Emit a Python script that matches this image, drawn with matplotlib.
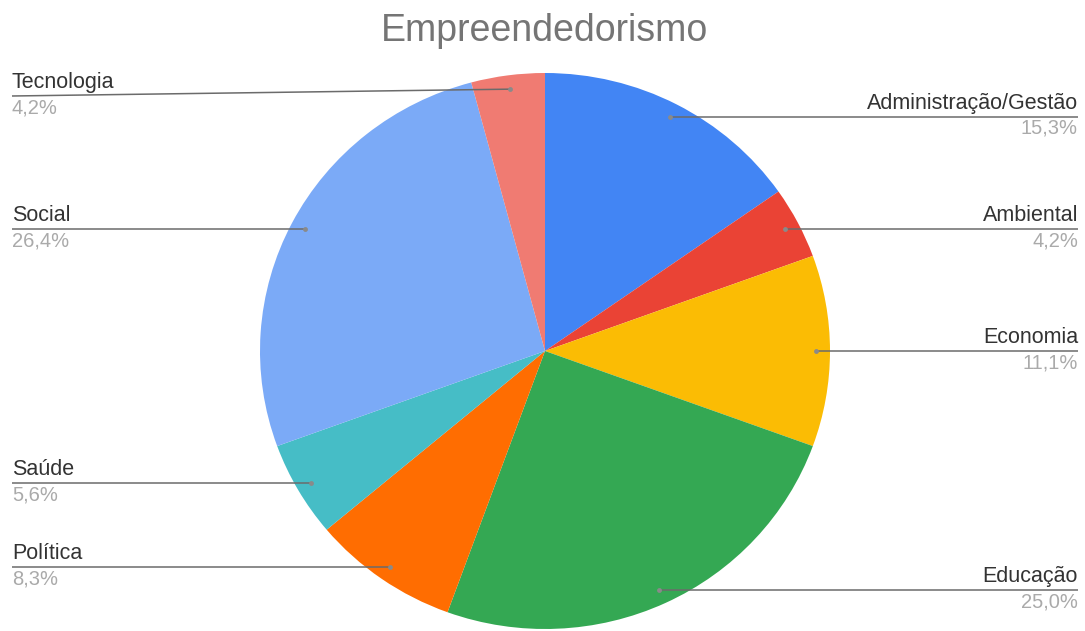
import matplotlib
matplotlib.use("Agg")
import matplotlib.pyplot as plt
import numpy as np

# Empreendedorismo survey answers (counts out of 72)
categories = ["Administração/Gestão", "Ambiental", "Economia", "Educação",
              "Política", "Saúde", "Social", "Tecnologia"]
counts = [11, 3, 8, 18, 6, 4, 19, 3]
pct_labels = ["15,3%", "4,2%", "11,1%", "25,0%", "8,3%", "5,6%", "26,4%", "4,2%"]
colors = ["#4285F4", "#EA4335", "#FBBC04", "#34A853",
          "#FF6D01", "#46BDC6", "#7BAAF7", "#F07B72"]

W, H = 1085, 631
CX, CY = 545, 351      # pie centre (pixels)
RX, RY = 285, 278      # pie radius (pixels), slightly stretched like the source
label_y_override = {"Tecnologia": 96}


def to_data(px, py):
    return (px - CX) / RX, (CY - py) / RY


def to_px(x, y):
    return CX + x * RX, CY - y * RY


plt.rcParams["font.family"] = ["Liberation Sans", "DejaVu Sans"]
fig = plt.figure(figsize=(W / 100, H / 100), dpi=100)
ax = fig.add_axes([0, 0, 1, 1])

wedges, _ = ax.pie(counts, colors=colors, startangle=90, counterclock=False,
                   radius=1, wedgeprops=dict(linewidth=0))
ax.set_aspect("auto")
ax.set_xlim((0 - CX) / RX, (W - CX) / RX)
ax.set_ylim((CY - H) / RY, CY / RY)
ax.axis("off")

for w, name, pct in zip(wedges, categories, pct_labels):
    mid = np.deg2rad((w.theta1 + w.theta2) / 2)
    dx, dy = 0.95 * np.cos(mid), 0.95 * np.sin(mid)
    dpx, dpy = to_px(dx, dy)
    ly = label_y_override.get(name, dpy)
    left = np.cos(mid) < 0
    ex = 12 if left else 1078
    x0, y0 = to_data(ex, ly)
    ax.plot([dx, x0], [dy, y0], color="#6b6b6b", lw=1.1, solid_capstyle="butt")
    ax.plot([dx], [dy], "o", color="#8a8a8a", ms=3.5, mec="none")
    ha = "left" if left else "right"
    tx, ty = to_data(ex, ly - 3)
    ax.text(tx, ty, name, ha=ha, va="bottom", fontsize=15.5, color="#333333")
    tx, ty = to_data(ex, ly + 2)
    ax.text(tx, ty, pct, ha=ha, va="top", fontsize=14.5, color="#aaaaaa")

tx, ty = to_data(W / 2 + 2, 31)
ax.text(tx, ty, "Empreendedorismo", ha="center", va="center",
        fontsize=27, color="#757575")

fig.savefig("out.png", dpi=100, facecolor="white")
